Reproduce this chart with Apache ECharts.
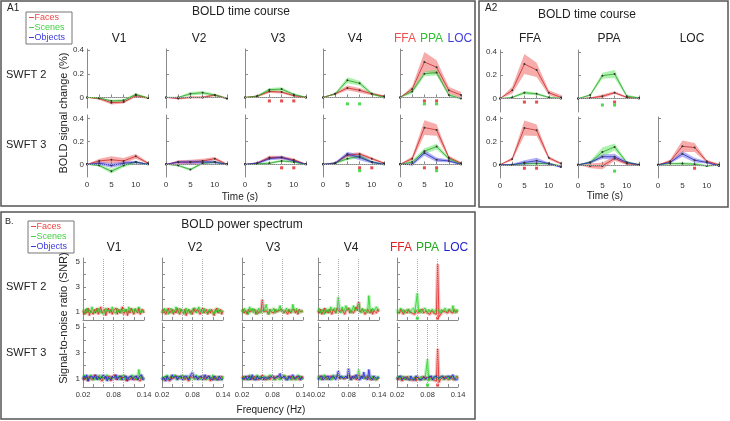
<!DOCTYPE html>
<html>
<head>
<meta charset="utf-8">
<script src="https://cdn.jsdelivr.net/npm/echarts@6.0.0/dist/echarts.min.js"></script>
<style>
  html, body { margin: 0; padding: 0; background: #fff; }
  #main { width: 730px; height: 421px; }
</style>
</head>
<body>
<div id="main"></div>
<script>
// ---- time course data (time points in seconds) ----
const times = [0, 2.5, 5, 7.5, 10, 12.5];
const timeTicks = [0, 2.5, 5, 7.5, 10, 12.5];
const timeLabels = [0, 5, 10];
const boldLabels = [0, 0.2, 0.4];

const a1Regions = ['V1', 'V2', 'V3', 'V4'];
const a2Regions = ['FFA', 'PPA', 'LOC'];

// A1, SWFT 2 : V1, V2, V3, V4, FFA/PPA/LOC
const a1Faces2 = [
  [0, -0.01, -0.045, -0.04, 0.015, -0.005],
  [0, -0.01, 0, 0, 0.02, -0.01],
  [0, 0.01, 0.05, 0.045, 0.015, 0],
  [0, 0.03, 0.08, 0.06, 0.03, 0.01],
  [0, 0.07, 0.3, 0.255, 0.06, 0.02]
];
const a1Faces2Err = [
  [0, 0.01, 0.015, 0.012, 0.012, 0.008],
  [0, 0.008, 0.01, 0.01, 0.01, 0.008],
  [0, 0.008, 0.012, 0.012, 0.01, 0.006],
  [0, 0.01, 0.02, 0.02, 0.012, 0.008],
  [0, 0.025, 0.085, 0.06, 0.03, 0.025]
];
const a1Scenes2 = [
  [0, -0.005, -0.03, -0.025, 0.025, -0.005],
  [0, 0, 0.03, 0.04, 0.02, -0.01],
  [0, 0.01, 0.065, 0.07, 0.025, 0],
  [0, 0.03, 0.145, 0.12, 0.03, 0],
  [0, 0.05, 0.2, 0.21, 0.02, -0.01]
];
const a1Scenes2Err = [
  [0, 0.006, 0.01, 0.01, 0.012, 0.006],
  [0, 0.006, 0.015, 0.015, 0.01, 0.006],
  [0, 0.008, 0.015, 0.015, 0.01, 0.006],
  [0, 0.01, 0.025, 0.02, 0.012, 0.006],
  [0, 0.02, 0.02, 0.025, 0.012, 0.01]
];
const a1SigFaces2 = [[], [], [5, 7.5, 10], [], [5, 7.5]];
const a1SigScenes2 = [[], [], [], [5, 7.5], [5, 7.5]];

// A1, SWFT 3
const a1Faces3 = [
  [0, 0.03, 0.04, 0.03, 0.07, 0.01],
  [0, 0.02, 0.02, 0.03, 0.05, 0],
  [0, 0.01, 0.06, 0.06, 0.04, 0],
  [0, 0.01, 0.08, 0.09, 0.05, 0.01],
  [0, 0.05, 0.32, 0.3, 0.06, 0.01]
];
const a1Faces3Err = [
  [0, 0.02, 0.03, 0.025, 0.02, 0.01],
  [0, 0.015, 0.02, 0.02, 0.015, 0.008],
  [0, 0.01, 0.015, 0.015, 0.012, 0.006],
  [0, 0.01, 0.015, 0.015, 0.012, 0.008],
  [0, 0.02, 0.065, 0.05, 0.015, 0.01]
];
const a1Scenes3 = [
  [0, -0.01, -0.06, -0.01, 0.02, 0],
  [0, -0.01, -0.045, 0.01, 0.02, 0],
  [0, 0.005, 0.01, 0.03, 0.02, 0],
  [0, 0.01, 0.05, 0.07, 0.02, 0],
  [0, 0.02, 0.115, 0.155, 0.05, 0]
];
const a1Scenes3Err = [
  [0, 0.01, 0.02, 0.015, 0.01, 0.006],
  [0, 0.008, 0.012, 0.01, 0.01, 0.006],
  [0, 0.006, 0.01, 0.01, 0.008, 0.005],
  [0, 0.008, 0.015, 0.015, 0.01, 0.005],
  [0, 0.015, 0.025, 0.025, 0.015, 0.008]
];
const a1Objects3 = [
  [0, 0.01, -0.01, 0.01, 0.02, 0],
  [0, 0.02, 0.02, 0.02, 0.02, 0],
  [0, 0.01, 0.05, 0.06, 0.03, 0],
  [0, 0.01, 0.09, 0.06, 0.02, 0],
  [0, 0, 0.1, 0.04, 0.03, 0]
];
const a1Objects3Err = [
  [0, 0.015, 0.02, 0.015, 0.012, 0.006],
  [0, 0.012, 0.015, 0.015, 0.012, 0.006],
  [0, 0.01, 0.015, 0.015, 0.01, 0.005],
  [0, 0.01, 0.02, 0.025, 0.012, 0.006],
  [0, 0.012, 0.025, 0.02, 0.012, 0.008]
];
const a1SigFaces3 = [[], [], [7.5, 10], [7.5, 10], [5, 7.5]];
const a1SigScenes3 = [[], [], [], [7.5], [7.5]];

// A2, SWFT 2 : FFA, PPA (no LOC)
const a2Faces2 = [
  [0, 0.07, 0.295, 0.245, 0.05, 0.01],
  [0, 0.005, 0.02, 0.05, 0.01, 0]
];
const a2Faces2Err = [
  [0, 0.03, 0.085, 0.06, 0.02, 0.02],
  [0, 0.005, 0.015, 0.012, 0.008, 0.005]
];
const a2Scenes2 = [
  [0, 0.01, 0.05, 0.04, 0.01, 0],
  [0, 0.03, 0.195, 0.21, 0.02, 0.005]
];
const a2Scenes2Err = [
  [0, 0.008, 0.015, 0.012, 0.008, 0.006],
  [0, 0.012, 0.025, 0.035, 0.012, 0.008]
];
const a2SigFaces2 = [[5, 7.5], [7.5]];
const a2SigScenes2 = [[], [5, 7.5]];

// A2, SWFT 3 : FFA, PPA, LOC
const a2Faces3 = [
  [0, 0.05, 0.32, 0.3, 0.06, 0.01],
  [0, -0.01, -0.01, 0.055, 0.01, 0],
  [0, 0.03, 0.16, 0.15, 0.03, 0]
];
const a2Faces3Err = [
  [0, 0.015, 0.065, 0.05, 0.015, 0.01],
  [0, 0.02, 0.03, 0.02, 0.012, 0.006],
  [0, 0.015, 0.05, 0.04, 0.012, 0.008]
];
const a2Scenes3 = [
  [0, 0, 0.01, 0.01, 0.01, -0.01],
  [0, 0.02, 0.11, 0.155, 0.02, 0],
  [0, 0.01, 0.01, 0.005, -0.01, 0]
];
const a2Scenes3Err = [
  [0, 0.006, 0.01, 0.01, 0.008, 0.006],
  [0, 0.015, 0.04, 0.03, 0.012, 0.006],
  [0, 0.008, 0.012, 0.012, 0.01, 0.008]
];
const a2Objects3 = [
  [0, 0, 0.02, 0.035, 0.01, -0.02],
  [0, 0.02, 0.07, 0.07, 0.02, 0],
  [0, 0.02, 0.095, 0.04, 0.02, -0.01]
];
const a2Objects3Err = [
  [0, 0.008, 0.02, 0.025, 0.01, 0.008],
  [0, 0.012, 0.02, 0.025, 0.01, 0.006],
  [0, 0.01, 0.025, 0.02, 0.01, 0.008]
];
const a2SigFaces3 = [[5, 7.5], [], [7.5]];
const a2SigScenes3 = [[], [7.5], []];

// ---- power spectrum data (SNR) ----
const freqs = [
  0.02, 0.0225, 0.025, 0.0275, 0.03, 0.0325, 0.035,
  0.0375, 0.04, 0.0425, 0.045, 0.0475, 0.05, 0.0525,
  0.055, 0.0575, 0.06, 0.0625, 0.065, 0.0675, 0.07,
  0.0725, 0.075, 0.0775, 0.08, 0.0825, 0.085, 0.0875,
  0.09, 0.0925, 0.095, 0.0975, 0.1, 0.1025, 0.105,
  0.1075, 0.11, 0.1125, 0.115, 0.1175, 0.12, 0.1225,
  0.125, 0.1275, 0.13, 0.1325, 0.135, 0.1375, 0.14
];
const freqTicks = [0.02, 0.04, 0.06, 0.08, 0.1, 0.12, 0.14];
const freqLabels = [0.02, 0.08, 0.14];
const snrTicks = [1, 2, 3, 4, 5];
const snrLabels = [1, 3, 5];
const stimFreq2 = [0.06, 0.1];
const stimFreq3 = [0.06, 0.08, 0.1];

// SWFT 2 spectra : V1, V2, V3, V4, FFA/PPA/LOC
const spFaces2 = [
  [1.1,0.8,1.2,0.9,1.3,0.7,1.1, 1.0,0.8,1.2,0.9,1.3,0.8,1.1, 1.4,0.9,1.0,1.2,0.7,1.1,1.3,
   0.9,1.2,0.8,1.1,1.0,1.3,0.8, 1.2,0.9,1.1,1.4,0.8,1.0,1.2, 0.7,1.1,0.9,1.3,1.0,0.8,1.2,
   1.1,0.9,1.3,0.8,1.0,1.2,0.9],
  [0.9,1.2,1.0,0.8,1.1,1.3,0.9, 1.0,1.2,0.8,1.1,0.9,1.3,1.0, 0.8,1.2,1.1,0.9,1.2,0.7,1.0,
   1.2,0.9,1.1,0.8,1.3,1.0,0.9, 1.2,1.0,0.8,1.1,1.3,0.9,1.0, 1.2,0.8,1.1,0.9,1.2,1.0,0.7,
   1.1,1.3,0.9,1.0,1.2,0.8,1.1],
  [1.0,1.2,0.9,1.1,0.8,1.2,1.0, 0.9,1.1,1.0,1.2,0.8,1.1,0.9, 1.0,1.1,2.0,1.0,0.9,1.1,1.0,
   0.8,1.2,1.0,1.1,0.9,1.2,1.0, 0.9,1.1,1.0,1.2,1.3,0.9,1.1, 1.0,0.8,1.2,0.9,1.1,1.0,1.2,
   0.9,1.1,0.8,1.2,1.0,0.9,1.1],
  [1.1,0.9,1.2,0.8,1.0,1.3,0.9, 1.1,0.9,1.2,1.0,0.8,1.2,1.1, 0.9,1.3,1.4,1.0,0.9,1.2,1.0,
   0.8,1.1,1.0,1.3,0.9,1.1,1.2, 0.9,1.0,1.4,1.1,1.8,1.0,0.9, 1.2,1.1,0.8,1.0,1.2,1.1,0.9,
   1.2,0.8,1.1,1.0,0.9,1.2,1.0],
  [1.0,1.1,0.9,1.2,1.0,0.8,1.1, 1.0,0.9,1.2,1.0,1.1,0.9,1.0, 0.8,1.1,1.0,0.9,1.1,1.0,1.2,
   0.9,1.0,1.1,0.9,1.0,0.8,1.1, 1.0,0.9,0.8,0.8,4.8,0.6,0.7, 0.9,1.1,1.2,1.0,1.1,0.9,1.2,
   1.0,1.1,0.9,1.2,1.0,1.1,1.0]
];
const spScenes2 = [
  [1.2,1.0,0.8,1.3,1.0,1.2,0.9, 1.4,1.1,0.9,1.2,1.0,1.3,0.9, 1.1,1.2,0.8,1.1,1.3,1.0,0.9,
   1.2,1.0,1.4,1.0,1.1,0.9,1.3, 1.0,1.2,0.9,1.1,1.3,1.0,1.2, 0.9,1.4,1.0,1.1,1.2,0.9,1.3,
   1.0,1.1,1.4,0.9,1.2,1.0,1.1],
  [1.1,0.9,1.3,1.0,1.2,0.8,1.1, 1.3,0.9,1.2,1.0,1.4,1.1,0.9, 1.3,1.0,1.2,0.8,1.1,1.3,0.9,
   1.2,1.0,0.8,1.2,1.1,1.3,0.9, 1.1,1.4,1.0,1.2,0.9,1.3,1.0, 1.1,0.9,1.2,1.3,1.0,1.1,0.8,
   1.2,1.0,1.3,0.9,1.1,1.2,1.0],
  [1.2,0.9,1.3,1.0,1.1,0.8,1.4, 1.1,1.3,0.9,1.2,1.0,0.8,1.3, 1.1,0.9,1.2,1.0,1.2,1.6,1.1,
   0.8,1.2,1.0,1.1,1.3,0.9,1.2, 1.0,1.1,1.5,1.0,1.2,0.9,1.1, 1.3,1.0,1.2,1.1,0.9,1.6,1.2,
   1.0,1.3,0.9,1.1,1.2,1.0,1.1],
  [1.0,1.3,0.9,1.2,1.1,0.8,1.3, 1.0,1.2,0.9,1.4,1.1,1.0,1.3, 0.9,1.2,2.2,1.1,0.9,1.4,1.0,
   1.2,1.5,1.1,1.0,1.3,0.9,1.2, 1.5,1.1,1.0,1.2,1.7,1.1,0.9, 1.3,1.0,1.2,1.1,0.9,2.3,1.2,
   0.9,1.3,1.1,1.0,1.4,1.2,1.1],
  [1.2,0.9,1.1,1.3,1.0,1.2,0.9, 1.1,1.0,1.2,0.9,1.1,1.0,1.3, 0.9,1.0,2.5,1.0,1.2,0.9,1.1,
   1.0,1.3,1.1,0.9,1.2,1.0,1.1, 1.2,0.9,1.1,1.0,1.2,1.1,0.9, 1.2,1.0,1.1,1.3,1.0,0.9,1.2,
   1.1,1.0,1.5,1.1,0.9,1.2,1.0]
];

// SWFT 3 spectra
const spFaces3 = [
  [1.1,0.9,1.2,1.0,0.8,1.2,1.0, 1.1,0.9,1.3,1.0,0.9,1.2,1.0, 1.1,0.8,1.2,1.0,0.9,1.1,1.0,
   1.2,0.8,1.1,1.0,1.3,0.9,1.1, 1.0,1.2,0.9,1.1,1.0,1.2,0.8, 1.1,1.0,0.9,1.2,1.0,1.1,0.9,
   1.2,1.0,1.1,0.8,1.2,1.0,1.1],
  [1.0,1.1,0.9,1.2,1.0,1.1,0.8, 1.2,1.0,0.9,1.1,1.0,1.2,1.0, 0.9,1.1,1.0,1.2,0.9,1.1,1.0,
   0.8,1.1,1.0,1.2,1.0,0.9,1.1, 1.2,1.0,0.9,1.1,1.0,1.2,0.9, 1.1,1.0,1.2,0.8,1.1,1.0,0.9,
   1.2,1.0,1.1,0.9,1.0,1.2,1.0],
  [1.0,1.2,0.9,1.1,1.0,1.2,0.9, 1.0,1.1,0.9,1.2,1.0,1.1,0.9, 1.2,1.0,1.3,1.0,1.1,0.9,1.0,
   1.2,0.9,1.1,1.0,1.2,0.9,1.1, 1.0,1.2,1.0,0.9,1.1,1.0,1.2, 0.9,1.1,1.0,1.2,0.9,1.0,1.1,
   0.9,1.2,1.0,1.1,0.9,1.2,1.0],
  [1.1,1.0,1.2,0.9,1.1,1.0,1.2, 0.9,1.1,1.0,1.2,1.0,0.9,1.1, 1.0,1.2,1.3,1.0,0.9,1.1,1.2,
   1.0,0.9,1.1,1.0,1.2,0.9,1.1, 1.0,1.2,0.9,1.1,1.3,1.0,0.9, 1.2,1.1,1.0,0.9,1.2,1.0,1.1,
   0.9,1.2,1.0,1.1,0.9,1.0,1.1],
  [1.1,0.9,1.2,1.0,0.8,1.1,1.0, 0.9,1.2,1.0,1.1,0.9,1.0,0.9, 1.1,0.8,1.2,1.0,1.1,0.9,1.0,
   1.2,0.9,1.1,1.0,0.9,1.2,1.0, 1.1,0.9,1.0,0.8,3.3,0.7,0.9, 1.0,1.1,0.9,1.2,1.0,1.1,0.9,
   1.2,1.0,1.1,0.9,1.0,1.2,1.0]
];
const spScenes3 = [
  [1.0,1.3,0.9,1.1,1.2,0.9,1.3, 1.0,1.1,0.9,1.2,1.1,0.9,1.3, 1.0,1.2,0.9,1.1,1.0,1.3,0.9,
   1.1,1.2,1.0,0.9,1.2,1.1,1.0, 1.2,0.9,1.1,1.0,1.3,0.9,1.1, 1.2,1.0,0.9,1.1,1.3,1.0,1.2,
   0.9,1.1,1.7,1.0,1.2,0.9,1.1],
  [1.1,0.9,1.2,1.0,1.3,0.9,1.1, 1.0,1.2,1.0,1.3,1.1,0.9,1.2, 1.0,1.1,1.3,0.9,1.1,1.0,1.2,
   1.1,0.9,1.0,1.2,1.1,0.9,1.3, 1.0,1.2,0.9,1.1,1.0,1.2,1.1, 0.9,1.0,1.2,1.1,0.9,1.3,1.0,
   1.1,0.9,1.2,1.0,1.1,0.9,1.2],
  [1.1,0.9,1.2,1.0,1.1,0.9,1.3, 1.0,1.1,1.2,0.9,1.1,1.3,1.0, 1.2,0.9,1.1,1.0,1.2,1.1,0.9,
   1.0,1.3,1.2,1.0,1.1,0.9,1.2, 1.0,1.1,0.9,1.2,1.0,1.3,1.1, 0.9,1.2,1.0,1.1,0.9,1.2,1.0,
   1.1,0.9,1.3,1.0,1.2,1.1,0.9],
  [1.0,1.2,0.9,1.1,1.0,1.3,0.9, 1.1,1.2,1.0,1.1,0.9,1.3,1.0, 1.2,1.1,1.2,1.0,1.1,1.2,1.0,
   0.9,1.1,1.0,1.2,1.1,0.9,1.2, 1.0,1.1,1.2,1.0,1.7,1.0,1.1, 1.2,1.0,0.9,1.1,1.0,1.2,1.1,
   0.9,1.2,1.0,1.1,0.9,1.2,1.0],
  [1.0,1.2,0.9,1.1,1.0,1.2,0.9, 1.1,1.0,0.9,1.2,1.0,1.1,0.9, 1.0,1.2,1.0,1.1,0.9,1.2,1.0,
   1.1,0.9,1.0,2.5,0.8,1.0,1.1, 0.9,1.2,1.0,1.1,1.2,0.9,1.1, 1.0,1.2,0.9,1.1,1.0,1.2,0.9,
   1.1,1.0,1.2,0.9,1.1,1.0,1.2]
];
const spObjects3 = [
  [0.9,1.2,1.0,1.3,0.8,1.1,1.0, 1.2,1.0,1.1,1.3,0.9,1.1,1.2, 1.0,0.9,1.3,1.0,1.2,0.8,1.1,
   1.0,0.9,1.2,1.0,1.1,1.3,0.9, 1.1,1.0,1.2,0.9,1.1,1.0,1.2, 0.8,1.1,1.0,1.2,0.9,1.1,1.0,
   1.2,0.9,1.1,1.0,1.3,0.9,1.0],
  [0.9,1.1,1.0,0.8,1.2,1.0,1.1, 0.9,1.3,1.1,1.0,1.2,0.9,1.1, 1.0,1.2,0.9,1.1,1.0,1.2,1.1,
   0.9,1.2,1.1,1.5,1.1,1.0,1.2, 0.9,1.1,1.0,1.2,0.9,1.1,1.3, 1.0,0.9,1.2,1.0,1.1,0.9,1.2,
   1.0,1.1,0.9,1.2,1.0,1.1,0.9],
  [1.0,1.1,1.0,1.2,0.9,1.0,1.2, 0.9,1.3,1.0,1.1,0.9,1.2,1.0, 1.1,1.0,1.2,0.9,1.1,1.2,1.0,
   0.9,1.1,1.0,1.2,1.0,0.9,1.1, 1.0,1.2,1.4,1.0,0.9,1.2,1.0, 1.1,0.9,1.2,1.0,1.1,1.3,1.0,
   0.9,1.1,1.0,1.2,0.9,1.1,1.0],
  [0.9,1.1,1.0,1.2,0.9,1.0,1.1, 1.0,1.2,0.9,1.1,1.0,1.2,1.1, 0.9,1.2,1.6,1.0,1.2,1.1,1.0,
   0.9,1.2,1.0,1.8,1.1,0.9,1.2, 1.0,1.1,1.3,1.0,1.1,0.9,1.2, 1.0,1.5,1.1,1.0,0.9,1.7,1.1,
   1.0,0.9,1.2,1.1,1.0,0.9,1.1],
  [0.9,1.1,1.0,1.2,0.9,1.0,1.1, 1.2,1.0,1.1,0.9,1.2,1.0,1.1, 0.9,1.2,1.3,1.0,1.1,0.9,1.0,
   1.1,1.2,1.0,0.9,1.1,1.0,1.2, 0.9,1.1,1.0,1.2,1.0,0.9,1.1, 1.0,1.2,1.0,0.9,1.1,1.0,1.2,
   1.0,0.9,1.3,1.0,1.1,0.9,1.0]
];
const spSigFaces2 = [[], [], [], [], [0.1]];
const spSigScenes2 = [[], [], [], [], [0.06]];
const spSigFaces3 = [[], [], [], [], [0.1]];
const spSigScenes3 = [[], [], [], [], [0.08]];

// ---- styling ----
const FONT = '"Liberation Sans", Arial, sans-serif';
const COL = {
  faces:   { line: '#c62828', band: 'rgba(240,90,90,0.5)', spec: '#e02020', legend: '#f04545' },
  scenes:  { line: '#2e9e2e', band: 'rgba(90,230,90,0.5)', spec: '#22d022', legend: '#44d044' },
  objects: { line: '#2b2bb8', band: 'rgba(100,100,240,0.5)', spec: '#2222e0', legend: '#3a3ae0' }
};
const SIG_Y = { faces: -0.03, scenes: -0.055, objects: -0.08 };
const AXIS_C = '#8a8a8a';

const grids = [], xAxes = [], yAxes = [], series = [];
let gridCount = 0;

function addGrid(left, top, width, height, xa, ya) {
  grids.push({ left, top, width, height, outerBoundsMode: 'none', containLabel: false });
  xAxes.push(Object.assign({ gridIndex: gridCount, type: 'value', splitLine: { show: false } }, xa));
  yAxes.push(Object.assign({ gridIndex: gridCount, type: 'value', splitLine: { show: false } }, ya));
  return gridCount++;
}

function axisPart(min, max, ticks, labels, showLabels, fontSize, margin) {
  return {
    min, max,
    axisLine: { show: true, lineStyle: { color: AXIS_C, width: 1 } },
    axisTick: { show: true, inside: true, length: 3, customValues: ticks, lineStyle: { color: AXIS_C } },
    axisLabel: { show: showLabels, customValues: labels, fontSize, color: '#333', margin, fontFamily: FONT }
  };
}

function bandSeries(g, xs, mean, err, color) {
  return {
    type: 'custom', xAxisIndex: g, yAxisIndex: g, silent: true, clip: false, z: 1,
    data: [[xs[0], mean[0]]],
    renderItem: function (params, api) {
      const up = xs.map((x, i) => api.coord([x, mean[i] + err[i]]));
      const lo = xs.map((x, i) => api.coord([x, mean[i] - err[i]])).reverse();
      return { type: 'polygon', shape: { points: up.concat(lo) }, style: { fill: color } };
    }
  };
}

const dotted = { type: 'dotted', color: '#aaa', width: 1 };

function timePanel(left, top, height, yMin, yMax, showY, showX, layers) {
  const g = addGrid(left, top, 61, height,
    axisPart(0, 12.5, timeTicks, timeLabels, showX, 8, 4),
    axisPart(yMin, yMax, boldLabels, boldLabels, showY, 8, 3));
  layers.forEach(L => series.push(bandSeries(g, times, L.mean, L.err, COL[L.cat].band)));
  layers.forEach((L, k) => {
    const s = {
      type: 'line', xAxisIndex: g, yAxisIndex: g, silent: true, z: 3,
      data: times.map((t, i) => [t, L.mean[i]]),
      symbol: 'circle', symbolSize: 2,
      itemStyle: { color: '#333' },
      lineStyle: { color: COL[L.cat].line, width: 0.8 }
    };
    if (k === 0) {
      s.markLine = { silent: true, symbol: ['none', 'none'], label: { show: false },
                     lineStyle: dotted, data: [{ yAxis: 0 }] };
    }
    series.push(s);
    if (L.sig && L.sig.length) {
      series.push({
        type: 'scatter', xAxisIndex: g, yAxisIndex: g, silent: true, z: 4,
        symbol: 'rect', symbolSize: 3,
        itemStyle: { color: COL[L.cat].spec },
        data: L.sig.map(t => [t, SIG_Y[L.cat]])
      });
    }
  });
}

function specPanel(left, top, height, showX, showY, stim, layers) {
  const g = addGrid(left, top, 61, height,
    axisPart(0.02, 0.14, freqTicks, freqLabels, showX, 7.5, 4),
    axisPart(0.35, 5.3, snrTicks, snrLabels, showY, 8, 3));
  layers.forEach((L, k) => {
    const pts = freqs.map((f, i) => [f, L.vals[i]]);
    series.push({
      type: 'line', xAxisIndex: g, yAxisIndex: g, silent: true, z: 2,
      data: pts, symbol: 'none',
      lineStyle: { color: COL[L.cat].spec, width: 3.5, opacity: 0.28 }
    });
    const s = {
      type: 'line', xAxisIndex: g, yAxisIndex: g, silent: true, z: 3,
      data: pts, symbol: 'none',
      lineStyle: { color: COL[L.cat].spec, width: 0.8 }
    };
    if (k === 0) {
      s.markLine = { silent: true, symbol: ['none', 'none'], label: { show: false },
                     lineStyle: dotted, data: stim.map(f => ({ xAxis: f })) };
    }
    series.push(s);
    if (L.sig && L.sig.length) {
      series.push({
        type: 'scatter', xAxisIndex: g, yAxisIndex: g, silent: true, z: 4,
        symbol: 'rect', symbolSize: 3,
        itemStyle: { color: COL[L.cat].spec },
        data: L.sig.map(f => [f, 0.5])
      });
    }
  });
}

// ---- A1 ----
const a1Left = [87, 166, 245, 323, 400];
for (let c = 0; c < 5; c++) {
  timePanel(a1Left[c], 49, 59, -0.09, 0.41, c === 0, false, [
    { cat: 'faces', mean: a1Faces2[c], err: a1Faces2Err[c], sig: a1SigFaces2[c] },
    { cat: 'scenes', mean: a1Scenes2[c], err: a1Scenes2Err[c], sig: a1SigScenes2[c] }
  ]);
  timePanel(a1Left[c], 115, 62, -0.11, 0.43, c === 0, true, [
    { cat: 'faces', mean: a1Faces3[c], err: a1Faces3Err[c], sig: a1SigFaces3[c] },
    { cat: 'scenes', mean: a1Scenes3[c], err: a1Scenes3Err[c], sig: a1SigScenes3[c] },
    { cat: 'objects', mean: a1Objects3[c], err: a1Objects3Err[c], sig: [] }
  ]);
}

// ---- A2 ----
const a2Left = [500, 578, 658];
for (let c = 0; c < 3; c++) {
  if (a2Faces2[c]) {
    timePanel(a2Left[c], 50, 62, -0.115, 0.415, c === 0, false, [
      { cat: 'faces', mean: a2Faces2[c], err: a2Faces2Err[c], sig: a2SigFaces2[c] },
      { cat: 'scenes', mean: a2Scenes2[c], err: a2Scenes2Err[c], sig: a2SigScenes2[c] }
    ]);
  }
  timePanel(a2Left[c], 117, 61, -0.115, 0.415, c === 0, true, [
    { cat: 'faces', mean: a2Faces3[c], err: a2Faces3Err[c], sig: a2SigFaces3[c] },
    { cat: 'scenes', mean: a2Scenes3[c], err: a2Scenes3Err[c], sig: a2SigScenes3[c] },
    { cat: 'objects', mean: a2Objects3[c], err: a2Objects3Err[c], sig: [] }
  ]);
}

// ---- B ----
const bLeft = [83, 162, 242, 318, 397];
for (let c = 0; c < 5; c++) {
  specPanel(bLeft[c], 258, 62, false, c === 0, stimFreq2, [
    { cat: 'faces', vals: spFaces2[c], sig: spSigFaces2[c] },
    { cat: 'scenes', vals: spScenes2[c], sig: spSigScenes2[c] }
  ]);
  specPanel(bLeft[c], 323, 64, true, c === 0, stimFreq3, [
    { cat: 'faces', vals: spFaces3[c], sig: spSigFaces3[c] },
    { cat: 'scenes', vals: spScenes3[c], sig: spSigScenes3[c] },
    { cat: 'objects', vals: spObjects3[c], sig: [] }
  ]);
}

// ---- text, frames, legends ----
function txt(x, y, s, size, color, align, rot) {
  return {
    type: 'text', x, y, rotation: rot || 0, z: 10, silent: true,
    style: { text: s, font: size + 'px ' + FONT, fill: color || '#222',
             textAlign: align || 'center', textVerticalAlign: 'middle' }
  };
}
function frame(x, y, w, h, lw, stroke) {
  return { type: 'rect', z: 9, silent: true, shape: { x, y, width: w, height: h },
           style: { fill: 'none', stroke: stroke || '#555', lineWidth: lw || 1.5 } };
}
function legendBox(x, y) {
  const out = [frame(x, y, 46, 32, 1, '#777')];
  ['faces', 'scenes', 'objects'].forEach((k, i) => {
    const yy = y + 5.5 + i * 10;
    out.push({ type: 'line', z: 10, silent: true, shape: { x1: x + 3, y1: yy, x2: x + 8, y2: yy },
               style: { stroke: COL[k].legend, lineWidth: 1 } });
    out.push(txt(x + 8.5, yy, ['Faces', 'Scenes', 'Objects'][i], 9, COL[k].legend, 'left'));
  });
  return out;
}
function roiHeader(x, y, colors) {
  return [
    txt(x, y, 'FFA', 12, colors[0], 'left'),
    txt(x + 26, y, 'PPA', 12, colors[1], 'left'),
    txt(x + 53.5, y, 'LOC', 12, colors[2], 'left')
  ];
}

const graphics = [
  frame(1, 1, 474, 205), frame(479, 1, 249, 206), frame(1, 212, 474, 207),
  // A1
  txt(7, 8, 'A1', 10, '#222', 'left'),
  txt(241, 12, 'BOLD time course', 12),
  txt(6, 75, 'SWFT 2', 11, '#222', 'left'),
  txt(6, 145, 'SWFT 3', 11, '#222', 'left'),
  txt(64, 113, 'BOLD signal change (%)', 11, '#222', 'center', Math.PI / 2),
  txt(240, 197, 'Time (s)', 10),
  // A2
  txt(485, 8, 'A2', 10, '#222', 'left'),
  txt(587, 15, 'BOLD time course', 12),
  txt(605, 196, 'Time (s)', 10),
  // B
  txt(5, 222, 'B.', 9, '#222', 'left'),
  txt(242, 225, 'BOLD power spectrum', 12),
  txt(6, 287, 'SWFT 2', 11, '#222', 'left'),
  txt(6, 353, 'SWFT 3', 11, '#222', 'left'),
  txt(64, 318, 'Signal-to-noise ratio (SNR)', 11, '#222', 'center', Math.PI / 2),
  txt(271, 410, 'Frequency (Hz)', 10)
];
const a1ColX = [119, 199, 278, 355];
a1Regions.forEach((r, i) => graphics.push(txt(a1ColX[i], 39, r, 12)));
graphics.push(...roiHeader(394, 39, ['#f05050', '#33c233', '#4040dd']));
const a2ColX = [530, 609, 692];
a2Regions.forEach((r, i) => graphics.push(txt(a2ColX[i], 39, r, 12)));
const bColX = [114, 195, 273, 351];
a1Regions.forEach((r, i) => graphics.push(txt(bColX[i], 248, r, 12)));
graphics.push(...roiHeader(390, 248, ['#dd2222', '#22aa22', '#2222cc']));
graphics.push(...legendBox(26, 12));
graphics.push(...legendBox(28, 221));

const chart = echarts.init(document.getElementById('main'), null, { renderer: 'canvas' });
chart.setOption({
  animation: false,
  backgroundColor: '#fff',
  grid: grids,
  xAxis: xAxes,
  yAxis: yAxes,
  series: series,
  graphic: graphics
});
</script>
</body>
</html>
